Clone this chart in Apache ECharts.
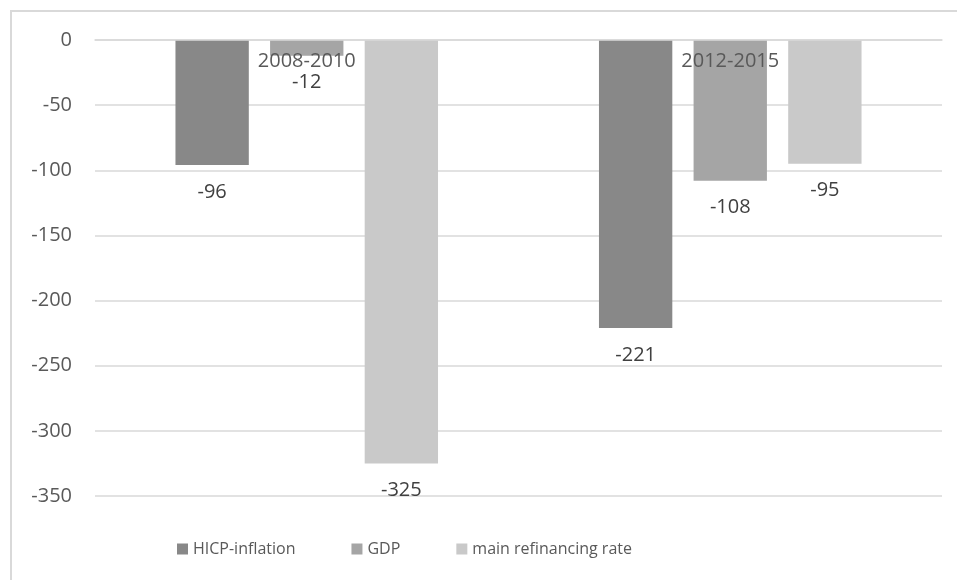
<!DOCTYPE html>
<html>
<head>
<meta charset="utf-8">
<script src="https://cdn.jsdelivr.net/npm/echarts@6/dist/echarts.min.js"></script>
<style>
  html, body { margin: 0; padding: 0; background: #fff; }
  #chart { width: 957px; height: 580px; }
</style>
</head>
<body>
<div id="chart"></div>
<script>
const periods = ['2008-2010', '2012-2015']
const hicp = [-96, -221]
const gdp = [-12, -108]
const refiRate = [-325, -95]
const yTicks = { min: -350, max: 0, step: 50 }

const myChart = echarts.init(document.getElementById('chart'))

// shared look for the value labels under each bar
const barLabel = {
  show: true,
  position: 'bottom',
  distance: 17,
  color: '#404040',
  fontSize: 20,
  fontFamily: 'Open Sans'
}

const option = {
  backgroundColor: '#fff',
  animation: false,
  textStyle: { fontFamily: 'Open Sans' },
  graphic: [{
    type: 'rect',
    shape: { x: 11, y: 11, width: 1000, height: 620 },
    style: { fill: 'none', stroke: '#d9d9d9', lineWidth: 2 },
    silent: true
  }],
  legend: {
    bottom: 18,
    left: 172,
    itemWidth: 11,
    itemHeight: 11,
    itemGap: 56,
    icon: 'rect',
    textStyle: { color: '#595959', fontSize: 16, fontFamily: 'Open Sans' },
    data: ['HICP-inflation', 'GDP', 'main refinancing rate']
  },
  grid: { left: 95, right: 15, top: 40, bottom: 84 },
  xAxis: {
    type: 'category',
    data: periods,
    position: 'top',
    z: 10,
    axisLine: { show: true, lineStyle: { color: '#d9d9d9', width: 1.5 } },
    axisTick: { show: false },
    axisLabel: {
      inside: true,
      margin: 11,
      color: '#595959',
      fontSize: 20,
      fontFamily: 'Open Sans',
      verticalAlign: 'top'
    }
  },
  yAxis: {
    type: 'value',
    min: yTicks.min,
    max: yTicks.max,
    interval: yTicks.step,
    axisLine: { show: false },
    axisTick: { show: false },
    splitLine: { lineStyle: { color: '#d9d9d9', width: 1.5 } },
    axisLabel: { color: '#595959', fontSize: 20, margin: 23, fontFamily: 'Open Sans' }
  },
  series: [
    {
      name: 'HICP-inflation', type: 'bar', data: hicp,
      itemStyle: { color: '#888888' },
      barGap: '29%', barCategoryGap: '38%',
      label: barLabel
    },
    {
      name: 'GDP', type: 'bar', data: gdp,
      itemStyle: { color: '#a5a5a5' },
      label: barLabel
    },
    {
      name: 'main refinancing rate', type: 'bar', data: refiRate,
      itemStyle: { color: '#c9c9c9' },
      label: barLabel
    }
  ]
}
myChart.setOption(option)
</script>
</body>
</html>
